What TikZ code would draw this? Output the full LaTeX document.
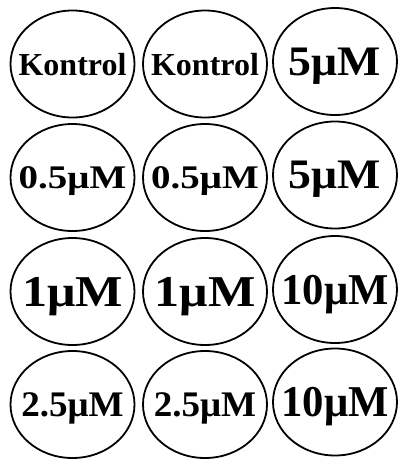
\documentclass[tikz,border=0pt]{standalone}
\usepackage{fontspec}
\setmainfont{Liberation Serif}
\usepackage{graphicx}
\usetikzlibrary{shapes.geometric, positioning}
\tikzset{
    pocillo/.style={ellipse, draw=black, line width=1.8pt, fill=white, inner sep=0pt, minimum width=124pt, minimum height=107pt, text depth=0pt, font=\bfseries},
    borde/.style={draw=none, fill=white}
}
\newcommand{\etiqueta}[3]{\makebox[0pt]{\scalebox{#1}[1]{\fontsize{#2}{#2}\selectfont #3}}}

\begin{document}
\begin{tikzpicture}[x=1pt, y=-1pt]
            \path[borde] (0,0) rectangle (401,459);
            \useasboundingbox (0,0) rectangle (401,459);

            % fila 1
            \node[pocillo] (k1) at (72.5,64) {\etiqueta{1.0}{32}{Kontrol}};
            \node[pocillo] (k2) at (205,64) {\etiqueta{1.0}{32}{Kontrol}};
            \node[pocillo] (c5a) at (335,61.5) {\etiqueta{1.09}{42}{5μM}};

            % fila 2
            \node[pocillo] (c05a) at (72.5,177.5) {\etiqueta{1.18}{33}{0.5μM}};
            \node[pocillo] (c05b) at (205,177.5) {\etiqueta{1.18}{33}{0.5μM}};
            \node[pocillo] (c5b) at (335,175) {\etiqueta{1.09}{42}{5μM}};

            % fila 3
            \node[pocillo] (c1a) at (72.5,291.5) {\etiqueta{1.14}{44}{1μM}};
            \node[pocillo] (c1b) at (205,291.5) {\etiqueta{1.14}{44}{1μM}};
            \node[pocillo] (c10a) at (335,289.5) {\etiqueta{0.97}{44}{10μM}};

            % fila 4
            \node[pocillo] (c25a) at (72.5,404.5) {\etiqueta{1.03}{36}{2.5μM}};
            \node[pocillo] (c25b) at (205,404.5) {\etiqueta{1.03}{36}{2.5μM}};
            \node[pocillo] (c10b) at (335,402) {\etiqueta{0.97}{44}{10μM}};
        \end{tikzpicture}
\end{document}
